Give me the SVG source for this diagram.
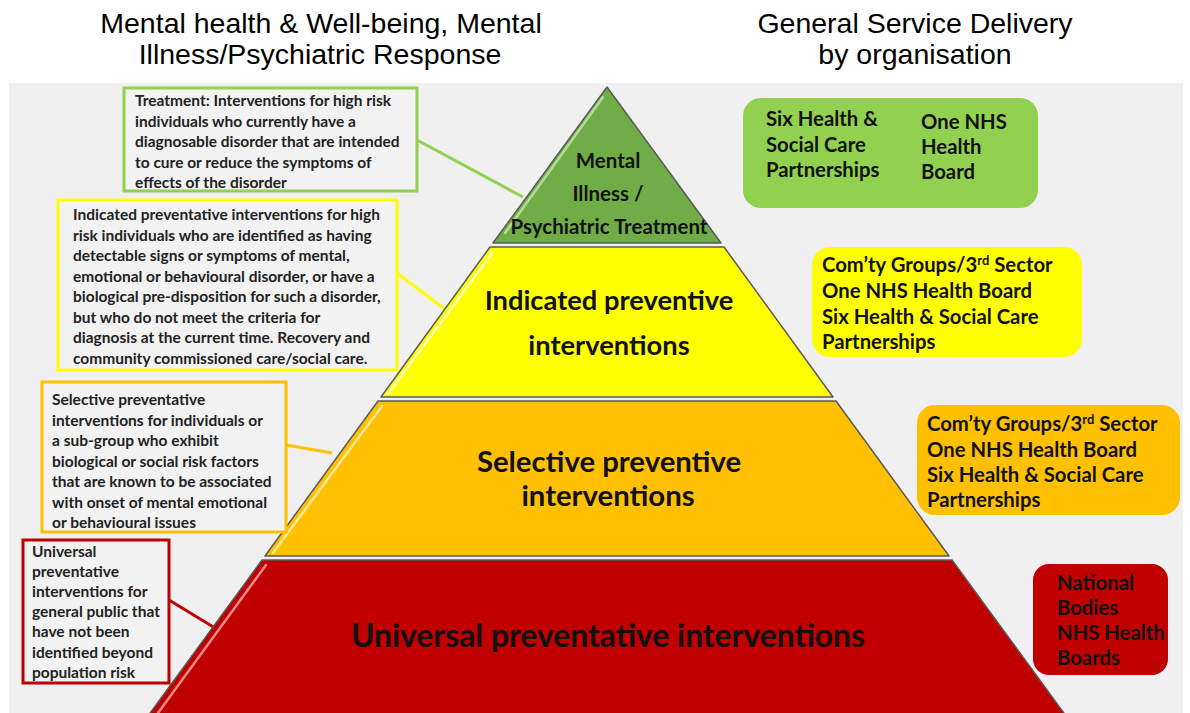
<svg xmlns="http://www.w3.org/2000/svg" width="1190" height="713" viewBox="0 0 1190 713">
  <style>
    .head { font-family: "Liberation Sans", Arial, sans-serif; font-size: 28.5px; fill: #000; text-anchor: middle; }
    .note { font-family: Lato, "Open Sans", sans-serif; font-weight: bold; font-size: 15.5px; fill: #222; }
    .org { font-family: Lato, "Open Sans", sans-serif; font-weight: bold; font-size: 20.3px; fill: #111; }
    .tier { font-family: Lato, "Open Sans", sans-serif; font-weight: bold; fill: #111; text-anchor: middle; }
    .tierEdge { stroke: #5a5a5a; stroke-width: 1.5; stroke-linejoin: round; }
    .hl { fill: none; stroke-width: 2.5; stroke-linecap: round; }
    .box { fill: #f2f2f2; stroke-width: 3; }
    .conn { fill: none; stroke-width: 3; }
  </style>

  <rect x="0" y="0" width="1190" height="713" fill="#ffffff"/>
  <rect x="9" y="83" width="1174" height="630" fill="#f0f0f0"/>

  <g id="headings">
    <text class="head" x="321" y="33">Mental health &amp; Well-being, Mental</text>
    <text class="head" x="320" y="64">Illness/Psychiatric Response</text>
    <text class="head" x="915" y="33">General Service Delivery</text>
    <text class="head" x="915" y="64">by organisation</text>
  </g>

  <g id="connectors">
    <line class="conn" x1="417" y1="140" x2="523" y2="197" stroke="#92d050"/>
    <line class="conn" x1="397" y1="273" x2="446" y2="310" stroke="#ffff00"/>
    <line class="conn" x1="286" y1="445" x2="332" y2="453" stroke="#ffc000"/>
    <line class="conn" x1="169" y1="600" x2="215" y2="628" stroke="#c00000"/>
  </g>

  <g id="tier-treatment">
    <polygon class="tierEdge" points="607,87 493,243 721,243" fill="#70ad47"/>
    <line class="hl" x1="603" y1="97" x2="505" y2="233" stroke="#b5dc96"/>
    <text class="tier" x="608" y="168" font-size="20.5">Mental</text>
    <text class="tier" x="608" y="201" font-size="20.5">Illness /</text>
    <text class="tier" x="609" y="234" font-size="20.5">Psychiatric Treatment</text>
  </g>

  <g id="tier-indicated">
    <polygon class="tierEdge" points="490,247 724,247 833,397 381,397" fill="#ffff00"/>
    <line class="hl" x1="493" y1="252" x2="388" y2="394" stroke="#ffffb8"/>
    <text class="tier" x="609" y="310" font-size="27.3">Indicated preventive</text>
    <text class="tier" x="609" y="355" font-size="27.3">interventions</text>
  </g>

  <g id="tier-selective">
    <polygon class="tierEdge" points="378,401 836,401 949,556 265,556" fill="#ffc000"/>
    <line class="hl" x1="382" y1="406" x2="273" y2="553" stroke="#ffe79a"/>
    <text class="tier" x="609" y="472" font-size="29.3">Selective preventive</text>
    <text class="tier" x="608" y="506" font-size="29.3">interventions</text>
  </g>

  <g id="tier-universal">
    <polygon class="tierEdge" points="262,560 952,560 1069,720 145,720" fill="#c00000"/>
    <line class="hl" x1="266" y1="565" x2="158" y2="713" stroke="#f08a8a"/>
    <text class="tier" x="608" y="647" font-size="31.8">Universal preventative interventions</text>
  </g>

  <g id="note-treatment">
    <rect class="box" x="124" y="88" width="293" height="103" stroke="#92d050"/>
    <text class="note" x="135" y="106">Treatment: Interventions for high risk</text>
    <text class="note" x="135" y="126.5">individuals who currently have a</text>
    <text class="note" x="135" y="147">diagnosable disorder that are intended</text>
    <text class="note" x="135" y="167.5">to cure or reduce the symptoms of</text>
    <text class="note" x="135" y="188">effects of the disorder</text>
  </g>

  <g id="note-indicated">
    <rect class="box" x="58" y="200" width="339" height="170" stroke="#ffff00"/>
    <text class="note" x="73" y="220" font-size="16">Indicated preventative interventions for high</text>
    <text class="note" x="73" y="240.5" font-size="16">risk individuals who are identified as having</text>
    <text class="note" x="73" y="261" font-size="16">detectable signs or symptoms of mental,</text>
    <text class="note" x="73" y="281.5" font-size="16">emotional or behavioural disorder, or have a</text>
    <text class="note" x="73" y="302" font-size="16">biological pre-disposition for such a disorder,</text>
    <text class="note" x="73" y="322.5" font-size="16">but who do not meet the criteria for</text>
    <text class="note" x="73" y="343" font-size="16">diagnosis at the current time. Recovery and</text>
    <text class="note" x="73" y="363.5" font-size="16">community commissioned care/social care.</text>
  </g>

  <g id="note-selective">
    <rect class="box" x="42" y="382" width="244" height="150" stroke="#ffc000"/>
    <text class="note" x="52" y="405" font-size="14.5">Selective preventative</text>
    <text class="note" x="52" y="425.5" font-size="14.5">interventions for individuals or</text>
    <text class="note" x="52" y="446" font-size="14.5">a sub-group who exhibit</text>
    <text class="note" x="52" y="466.5" font-size="14.5">biological or social risk factors</text>
    <text class="note" x="52" y="487" font-size="14.5">that are known to be associated</text>
    <text class="note" x="52" y="507.5" font-size="14.5">with onset of mental emotional</text>
    <text class="note" x="52" y="528" font-size="14.5">or behavioural issues</text>
  </g>

  <g id="note-universal">
    <rect class="box" x="23" y="540" width="146" height="143" stroke="#c00000"/>
    <text class="note" x="32" y="557">Universal</text>
    <text class="note" x="32" y="577">preventative</text>
    <text class="note" x="32" y="597">interventions for</text>
    <text class="note" x="32" y="617">general public that</text>
    <text class="note" x="32" y="637">have not been</text>
    <text class="note" x="32" y="658">identified beyond</text>
    <text class="note" x="32" y="678">population risk</text>
  </g>

  <g id="org-treatment">
    <rect x="743" y="98" width="295" height="110" rx="18" fill="#92d050"/>
    <text class="org" x="766" y="126">Six Health &amp;</text>
    <text class="org" x="766" y="152">Social Care</text>
    <text class="org" x="766" y="177">Partnerships</text>
    <text class="org" x="921" y="129">One NHS</text>
    <text class="org" x="921" y="154">Health</text>
    <text class="org" x="921" y="179">Board</text>
  </g>

  <g id="org-indicated">
    <rect x="812" y="247" width="270" height="110" rx="18" fill="#ffff00"/>
    <text class="org" x="822" y="272">Com’ty Groups/3<tspan font-size="13" dy="-7">rd</tspan><tspan dy="7"> Sector</tspan></text>
    <text class="org" x="822" y="298">One NHS Health Board</text>
    <text class="org" x="822" y="324">Six Health &amp; Social Care</text>
    <text class="org" x="822" y="349">Partnerships</text>
  </g>

  <g id="org-selective">
    <rect x="917" y="405" width="263" height="110" rx="18" fill="#ffc000"/>
    <text class="org" x="927" y="431">Com’ty Groups/3<tspan font-size="13" dy="-7">rd</tspan><tspan dy="7"> Sector</tspan></text>
    <text class="org" x="927" y="457">One NHS Health Board</text>
    <text class="org" x="927" y="482">Six Health &amp; Social Care</text>
    <text class="org" x="927" y="507">Partnerships</text>
  </g>

  <g id="org-universal">
    <rect x="1033" y="564" width="135" height="111" rx="16" fill="#c00000"/>
    <text class="org" x="1057" y="590">National</text>
    <text class="org" x="1057" y="615">Bodies</text>
    <text class="org" x="1057" y="640">NHS Health</text>
    <text class="org" x="1057" y="665">Boards</text>
  </g>
</svg>
